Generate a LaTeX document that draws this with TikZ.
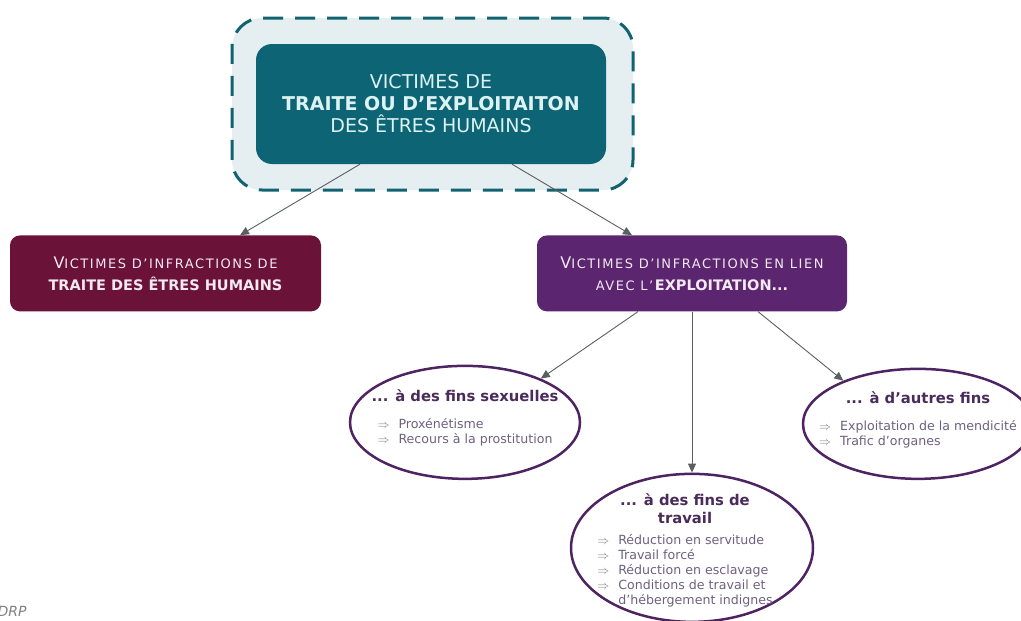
\documentclass[tikz,border=0pt]{standalone}
\usepackage{fontspec}
\setmainfont{DejaVu Sans}
\usetikzlibrary{shapes,arrows.meta,positioning}

\definecolor{halofill}{HTML}{E5EEF1}
\definecolor{haloline}{HTML}{11636F}
\definecolor{tealdark}{HTML}{0C6474}
\definecolor{tealtext}{HTML}{DDF3F3}
\definecolor{maroon}{HTML}{6A1238}
\definecolor{plum}{HTML}{5B256F}
\definecolor{boxtext}{HTML}{F3E9F1}
\definecolor{finline}{HTML}{4E2362}
\definecolor{fintitle}{HTML}{4A2B5C}
\definecolor{finitem}{HTML}{6E6180}
\definecolor{arrowgray}{HTML}{5A5F5F}

\newcommand{\capfirst}[1]{{\fontsize{16}{22}\selectfont #1}}
\newcommand{\capsmall}[1]{{\addfontfeature{LetterSpace=12}\fontsize{13}{22}\selectfont #1}}
\newcommand{\fintitle}[1]{{\bfseries #1}}
\newcommand{\finarrow}{{\color{gray}$\Rightarrow$}}
\newcommand{\finitems}[1]{{\color{finitem}\fontsize{12.6}{15}\selectfont\begin{tabular}[t]{@{}l@{\hspace{9pt}}l@{}}#1\end{tabular}}}

\begin{document}
\begin{tikzpicture}[
        x=1pt, y=-1pt,
        node distance=50pt,
        halo/.style={rectangle, rounded corners=30pt, draw=haloline, line width=3pt, dash pattern=on 20pt off 12pt, fill=halofill, minimum width=401pt, minimum height=172pt},
        mainbox/.style={rectangle, rounded corners=16pt, fill=tealdark, text=tealtext, minimum width=350pt, minimum height=120pt, align=center, font=\fontsize{19}{22}\selectfont},
        catbox/.style={rectangle, rounded corners=10pt, text=boxtext, minimum width=311pt, minimum height=76pt, align=center, font=\fontsize{14.5}{22}\selectfont},
        fin/.style={ellipse, draw=finline, line width=2.5pt, fill=white, inner sep=0pt},
        fintext/.style={align=center, text=fintitle, inner sep=0pt, font=\fontsize{14.8}{18}\selectfont},
        arrow/.style={draw=arrowgray, line width=0.9pt, -{Triangle[length=9pt,width=8pt]}}
    ]
        \useasboundingbox (0,0) rectangle (1021,621);

        % Top block
        \node[halo] (halo) at (432.5,104) {};
        \node[mainbox] (victimes) at (431,104) {VICTIMES DE\\ \textbf{TRAITE OU D’EXPLOITAITON}\\ DES ÊTRES HUMAINS};

        % Two categories
        \node[catbox, fill=maroon, below=71pt of victimes, xshift=-265.5pt] (traite) {\capfirst{V}\capsmall{ICTIMES D’INFRACTIONS DE}\\ \textbf{TRAITE DES ÊTRES HUMAINS}};
        \node[catbox, fill=plum, minimum width=310pt, below=71pt of victimes, xshift=261pt] (exploit) {\capfirst{V}\capsmall{ICTIMES D’INFRACTIONS EN LIEN}\\ \capsmall{AVEC L’}\textbf{EXPLOITATION...}};

        % Ends of exploitation
        \node[fin, minimum width=230pt, minimum height=113pt, below=53pt of exploit, xshift=-227pt] (sexuelles) {};
        \node[fin, minimum width=230pt, minimum height=110pt, below=56pt of exploit, xshift=226pt] (autres) {};
        \node[fin, minimum width=242pt, minimum height=148pt, below=161pt of exploit] (travail) {};

        \node[fintext] (sexuellestxt) at ([yshift=3.5pt]sexuelles.center) {\fintitle{... à des fins sexuelles}\\[9pt]
            \finitems{\finarrow & Proxénétisme\\ \finarrow & Recours à la prostitution}};
        \node[fintext] (autrestxt) at ([yshift=3.5pt]autres.center) {\fintitle{... à d’autres fins}\\[9pt]
            \finitems{\finarrow & Exploitation de la mendicité\\ \finarrow & Trafic d’organes}};
        \node[fintext] (travailtxt) at ([xshift=-7pt,yshift=-3pt]travail.center) {\fintitle{... à des fins de}\\ \fintitle{travail}\\[3pt]
            \finitems{\finarrow & Réduction en servitude\\ \finarrow & Travail forcé\\ \finarrow & Réduction en esclavage\\ \finarrow & Conditions de travail et\\ & d’hébergement indignes}};

        % Source
        \node[anchor=north west, text=gray, font=\itshape\fontsize{14}{16}\selectfont] (source) at (-6,603) {DRP};

        % Connections
        \draw[arrow] ([xshift=-71pt]victimes.south) -- ([xshift=74.5pt]traite.north);
        \draw[arrow] ([xshift=81pt]victimes.south) -- ([xshift=-60pt]exploit.north);
        \draw[arrow] ([xshift=-54pt]exploit.south) -- (sexuelles.30);
        \draw[arrow] (exploit.south) -- (travail.north);
        \draw[arrow] ([xshift=66pt]exploit.south) -- (autres.150);
    \end{tikzpicture}
\end{document}
